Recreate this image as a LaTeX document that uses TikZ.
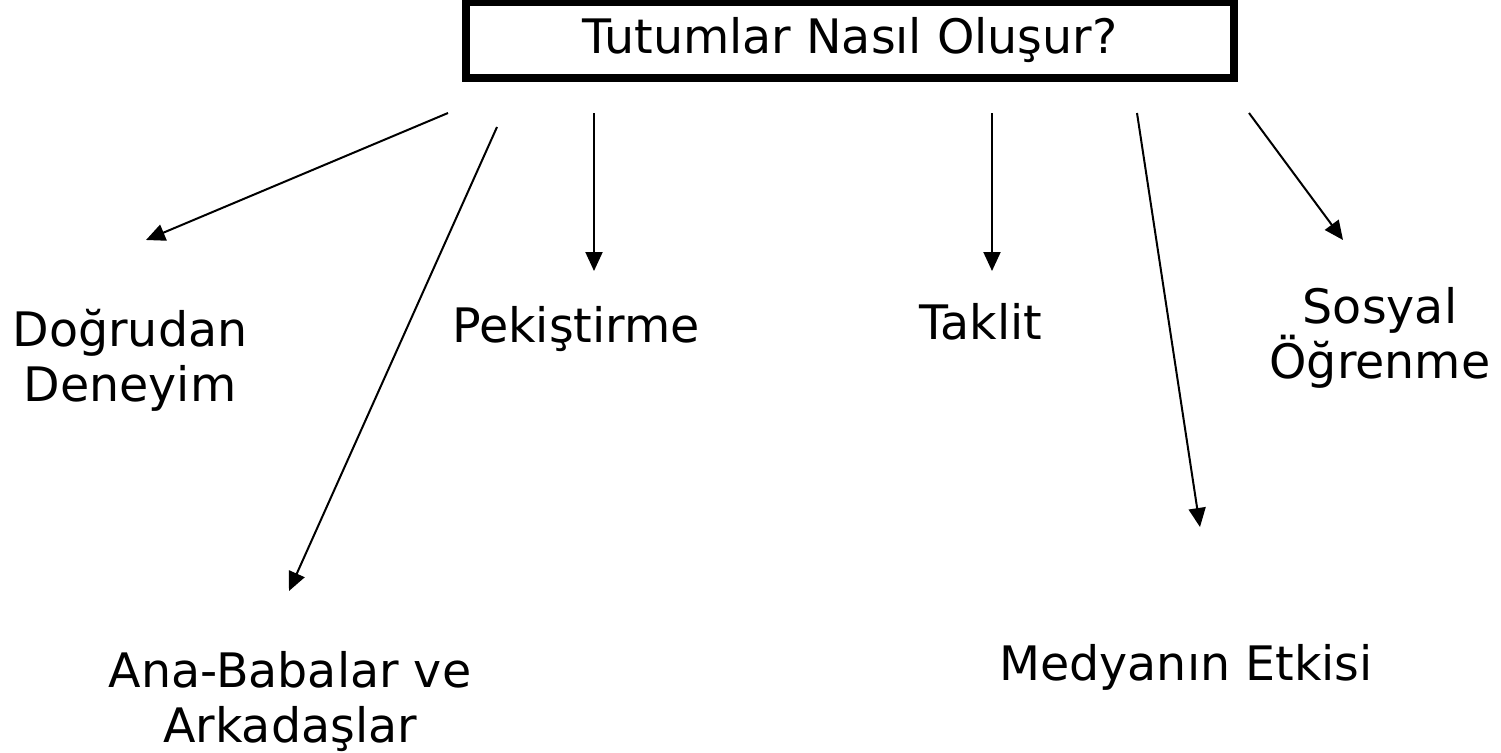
\documentclass[tikz,border=0pt]{standalone}
\usepackage{fontspec}
\setmainfont{DejaVu Sans}
\usetikzlibrary{positioning,arrows.meta}

\begin{document}
\begin{tikzpicture}[x=1pt,y=1pt]
		\tikzset{lbl/.style={font=\fontsize{47.5}{55}\selectfont,align=center,inner sep=0pt},
			arr/.style={-{Triangle[length=19pt,width=17pt]},line width=2pt}}
		\useasboundingbox (0,0) rectangle (1501,-752);
		
		\node[draw=black,line width=7.5pt,minimum width=768pt,minimum height=76pt,lbl] (title) at (850,-40) {Tutumlar Nasıl Oluşur?};
		
		\node[lbl] (dogrudan) at (130,-360) {Doğrudan\\Deneyim};
		\node[lbl] (anababa) at (290,-702) {Ana-Babalar ve\\Arkadaşlar};
		\node[lbl] (pekistirme) at (576,-329) {Pekiştirme};
		\node[lbl] (taklit) at (981,-322) {Taklit};
		\node[lbl] (medya) at (1186,-667) {Medyanın Etkisi};
		\node[lbl] (sosyal) at (1380,-338) {Sosyal\\Öğrenme};
		
		\coordinate (dd0) at (448,-113);
		\coordinate (dd1) at (146,-240);
		\coordinate (ab0) at (497,-127);
		\coordinate (ab1) at (289,-591);
		\coordinate (pk0) at (594,-113);
		\coordinate (pk1) at (594,-271);
		\coordinate (tk0) at (992,-113);
		\coordinate (tk1) at (992,-271);
		\coordinate (me0) at (1137,-113);
		\coordinate (me1) at (1200,-527);
		\coordinate (so0) at (1249,-113);
		\coordinate (so1) at (1343,-240);
		
		\draw[arr] (dd0)--(dd1);
		\draw[arr] (ab0)--(ab1);
		\draw[arr] (pk0)--(pk1);
		\draw[arr] (tk0)--(tk1);
		\draw[arr] (me0)--(me1);
		\draw[arr] (so0)--(so1);
	\end{tikzpicture}
\end{document}
